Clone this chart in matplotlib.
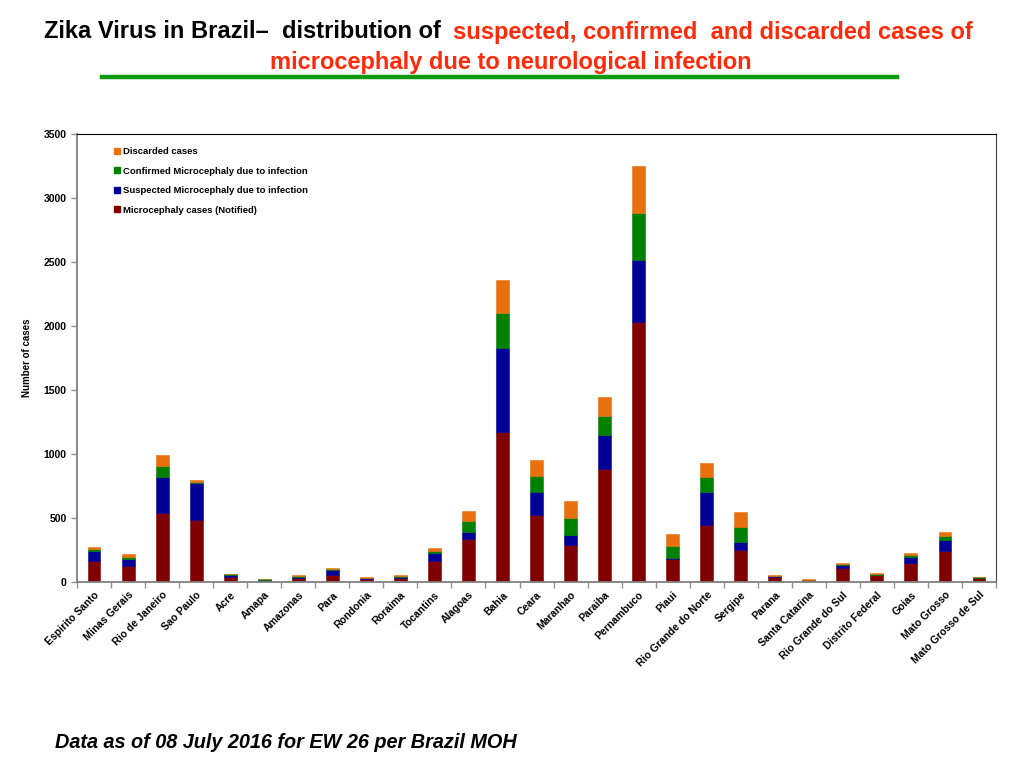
import matplotlib.pyplot as plt
import numpy as np
from matplotlib.lines import Line2D

plt.rcParams['font.family'] = ['Liberation Sans', 'DejaVu Sans']

states = ['Espirito Santo', 'Minas Gerais', 'Rio de Janeiro', 'Sao Paulo', 'Acre',
          'Amapa', 'Amazonas', 'Para', 'Rondonia', 'Roraima', 'Tocantins', 'Alagoas',
          'Bahia', 'Ceara', 'Maranhao', 'Paraiba', 'Pernambuco', 'Piaui',
          'Rio Grande do Norte', 'Sergipe', 'Parana', 'Santa Catarina',
          'Rio Grande do Sul', 'Distrito Federal', 'Goias', 'Mato Grosso',
          'Mato Grosso de Sul']

# stacked segments, bottom to top
notified = [164, 123, 534, 482, 39, 8, 26, 50, 18, 26, 164, 333,
            1173, 519, 283, 884, 2032, 176, 439, 244, 37, 10,
            105, 48, 147, 236, 25]
suspected = [78, 57, 286, 286, 13, 5, 13, 44, 6, 13, 58, 55,
             653, 180, 83, 260, 484, 10, 260, 67, 5, 2,
             24, 2, 47, 90, 6]
confirmed = [16, 15, 84, 13, 5, 4, 5, 4, 6, 8, 16, 86,
             271, 123, 132, 151, 364, 94, 117, 117, 5, 3,
             10, 8, 13, 32, 4]
discarded = [15, 19, 88, 13, 5, 6, 8, 6, 6, 5, 28, 78,
             263, 127, 133, 148, 367, 91, 112, 115, 3, 7,
             5, 8, 15, 31, 3]

series = [notified, suspected, confirmed, discarded]
names = ['Microcephaly cases (Notified)', 'Suspected Microcephaly due to infection',
         'Confirmed Microcephaly due to infection', 'Discarded cases']
colors = ['#800000', '#000096', '#008000', '#E8700E']

fig = plt.figure(figsize=(10.24, 7.68), dpi=100)
ax = fig.add_axes([0.0752, 0.2428, 0.8975, 0.5827])

x = np.arange(len(states))
bottom = np.zeros(len(states))
for vals, col in zip(series, colors):
    ax.bar(x, vals, 0.38, bottom=bottom, color=col, edgecolor=col, linewidth=0.4)
    bottom += np.array(vals)

ax.set_xlim(-0.5, len(states) - 0.5)
ax.set_ylim(0, 3500)
ax.set_yticks(np.arange(0, 3501, 500))
ax.set_xticks(x)
ax.set_xticklabels(states, rotation=45, ha='right', rotation_mode='anchor',
                   fontsize=7.5, fontweight='bold')
ax.set_xticks(np.arange(-0.5, len(states), 1), minor=True)
ax.tick_params(axis='x', which='major', length=0, pad=6)
ax.tick_params(axis='x', which='minor', length=4, color='#909090', width=1)
ax.tick_params(axis='y', length=4, color='#909090', width=1, labelsize=7.5)
for lab in ax.get_yticklabels():
    lab.set_fontweight('bold')
ax.set_ylabel('Number of cases', fontsize=7, fontweight='bold', labelpad=8)

ax.spines['left'].set_color('#808080')
ax.spines['bottom'].set_color('#808080')
ax.spines['left'].set_linewidth(1.3)
ax.spines['bottom'].set_linewidth(1.3)
ax.spines['top'].set_color('black')
ax.spines['right'].set_color('#404040')
ax.spines['top'].set_linewidth(0.8)
ax.spines['right'].set_linewidth(0.8)

handles = [Line2D([], [], marker='s', linestyle='', markersize=4.5,
                  markerfacecolor=c, markeredgecolor=c) for c in colors]
leg = ax.legend(handles[::-1], names[::-1], loc='upper left',
                bbox_to_anchor=(0.031, 0.99), frameon=False, fontsize=6.8,
                labelspacing=1.12, handlelength=0.6, handletextpad=0.4)
for t in leg.get_texts():
    t.set_fontweight('bold')

# title
fig.text(441 / 1024, 1 - 32 / 768, 'Zika Virus in Brazil\u2013  distribution of',
         ha='right', va='center', fontsize=17, fontweight='bold', color='black')
fig.text(453 / 1024, 1 - 32 / 768, 'suspected, confirmed  and discarded cases of',
         ha='left', va='center', fontsize=17, fontweight='bold', color='#FF2A0A')
fig.text(511 / 1024, 1 - 63 / 768, 'microcephaly due to neurological infection',
         ha='center', va='center', fontsize=17, fontweight='bold', color='#FF2A0A')
fig.add_artist(Line2D([102 / 1024, 897 / 1024], [1 - 77 / 768, 1 - 77 / 768],
                      color='#119911', linewidth=3.2, transform=fig.transFigure))

fig.text(55 / 1024, 1 - 743 / 768, 'Data as of 08 July 2016 for EW 26 per Brazil MOH',
         ha='left', va='center', fontsize=14.3, fontweight='bold', style='italic')

fig.savefig('out.png', dpi=100)
